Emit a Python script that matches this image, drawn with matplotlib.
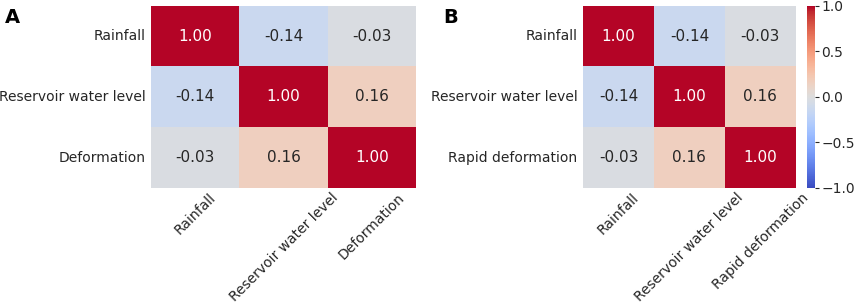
import numpy as np
import matplotlib
matplotlib.use("Agg")
import matplotlib.pyplot as plt
import seaborn as sns

# ── Data ───────────────────────────────────────────────────────────────
labels_a = ["Rainfall", "Reservoir water level", "Deformation"]
labels_b = ["Rainfall", "Reservoir water level", "Rapid deformation"]
corr_a = np.array([
    [1.00, -0.14, -0.03],
    [-0.14, 1.00, 0.16],
    [-0.03, 0.16, 1.00],
])
corr_b = np.array([
    [1.00, -0.14, -0.03],
    [-0.14, 1.00, 0.16],
    [-0.03, 0.16, 1.00],
])

plt.rcParams["font.family"] = ["DejaVu Sans"]
TEXT = "#262626"
FS = 10

fig = plt.figure(figsize=(8.58, 3.05), dpi=100)
ax_a = fig.add_axes([0.176, 0.384, 0.309, 0.597])
ax_b = fig.add_axes([0.6795, 0.384, 0.248, 0.597])
cax = fig.add_axes([0.941, 0.384, 0.0093, 0.597])

for ax, mat, labs, show_cbar in [(ax_a, corr_a, labels_a, False),
                                 (ax_b, corr_b, labels_b, True)]:
    sns.heatmap(mat, ax=ax, cmap="coolwarm", vmin=-1, vmax=1,
                annot=True, fmt=".2f", annot_kws={"fontsize": 11},
                xticklabels=labs, yticklabels=labs,
                cbar=show_cbar, cbar_ax=cax if show_cbar else None)
    ax.tick_params(axis="y", length=0, pad=4, colors=TEXT)
    ax.tick_params(axis="x", length=0, pad=2, colors=TEXT)
    ax.set_xticklabels(labs, rotation=45, ha="center", fontsize=FS, color=TEXT)
    ax.set_yticklabels(labs, rotation=0, fontsize=FS, color=TEXT)

cax.set_yticks([-1.0, -0.5, 0.0, 0.5, 1.0])
cax.tick_params(labelsize=FS, colors=TEXT, length=3, width=0.8, pad=1.5)

fig.text(0.006, 0.975, "A", fontsize=14, fontweight="bold", va="top")
fig.text(0.517, 0.975, "B", fontsize=14, fontweight="bold", va="top")

fig.savefig("out.png", dpi=100)
